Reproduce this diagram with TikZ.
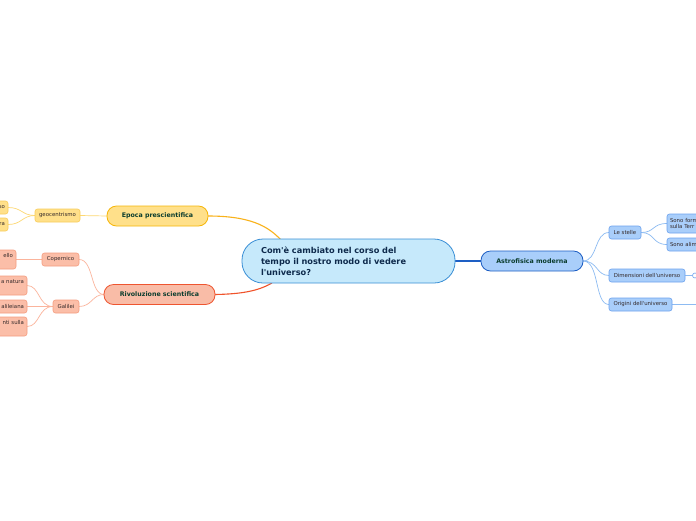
\documentclass[tikz,border=0pt]{standalone}
\usepackage{fontspec}
\setmainfont{DejaVu Sans}
\usetikzlibrary{backgrounds}
\begin{document}
\begin{tikzpicture}[x=1pt,y=-1pt,
  every node/.style={inner sep=0pt, outer sep=0pt},
  central/.style={draw=cBorder, fill=cFill, line width=0.8pt, rounded corners=21pt,
     minimum width=213pt, minimum height=44pt, text width=175pt, align=left,
     font=\fontsize{8.2}{10.8}\selectfont\bfseries, text=cText},
  topicY/.style={draw=yBorder, fill=yFill, line width=0.8pt, rounded corners=9.5pt,
     minimum height=20pt, font=\fontsize{6.3}{7.5}\selectfont\bfseries, text=tText},
  topicR/.style={topicY, draw=rBorder, fill=rFill},
  topicB/.style={topicY, draw=bBorder, fill=bFill},
  subY/.style={draw=ySub, fill=yFill2, line width=0.6pt, rounded corners=2.5pt,
     minimum height=13pt, font=\fontsize{5.4}{6.6}\selectfont, text=sText},
  subR/.style={subY, draw=rSub, fill=rFill2},
  subB/.style={subY, draw=bSub, fill=bFill2},
  leafL/.style={text width=60pt, align=right, anchor=east, inner xsep=3pt},
  leafR/.style={text width=60pt, align=left, anchor=west, inner xsep=3pt},
  lnY/.style={draw=yLine, line width=0.7pt},
  lnR/.style={draw=rLine, line width=0.7pt},
  lnB/.style={draw=bLine, line width=0.7pt},
]
\definecolor{cBorder}{HTML}{3A8FD6}
\definecolor{cFill}{HTML}{C6E9FB}
\definecolor{cText}{HTML}{0E2A4C}
\definecolor{tText}{HTML}{0B3D2E}
\definecolor{sText}{HTML}{352A2A}
\definecolor{yBorder}{HTML}{F6B60A}
\definecolor{yFill}{HTML}{FFE08A}
\definecolor{yFill2}{HTML}{FFE08A}
\definecolor{ySub}{HTML}{F8CD5A}
\definecolor{yLine}{HTML}{FDD873}
\definecolor{rBorder}{HTML}{EE5530}
\definecolor{rFill}{HTML}{F9BCA7}
\definecolor{rFill2}{HTML}{FBBEA8}
\definecolor{rSub}{HTML}{F59E80}
\definecolor{rLine}{HTML}{FBB49C}
\definecolor{bBorder}{HTML}{1E5FC4}
\definecolor{bFill}{HTML}{A9CEFA}
\definecolor{bFill2}{HTML}{A9CEFA}
\definecolor{bSub}{HTML}{6CA2EE}
\definecolor{bLine}{HTML}{8DBBF2}
\definecolor{orangeLine}{HTML}{F9B21A}
\definecolor{redLine}{HTML}{F0532B}
\definecolor{blueLine}{HTML}{1E5FC4}

\useasboundingbox (0,0) rectangle (696,520);

% nodes
\node[central] (root) at (348.5,261) {Com\textquotesingle è cambiato nel corso del\\tempo il nostro modo di vedere\\l\textquotesingle universo?};

\node[topicY, minimum width=101pt] (epoca) at (157.5,216) {Epoca prescientifica};
\node[topicR, minimum width=111pt] (rivo) at (159.5,294.5) {Rivoluzione scientifica};
\node[topicB, minimum width=102pt] (astro) at (532,261) {Astrofisica moderna};

\node[subY, minimum width=45pt] (geo) at (57.5,215.5) {geocentrismo};
\node[subY, leafL, minimum height=13pt] (so) at (8,207.5) {so};
\node[subY, leafL, minimum height=13pt] (ra) at (8,224.5) {ra};

\node[subR, minimum width=37pt] (cop) at (60.5,259.5) {Copernico};
\node[subR, minimum width=26pt] (gal) at (66,306.5) {Galilei};
\node[subR, leafL, minimum height=19pt] (ello) at (16,259.5) {ello\\\strut};
\node[subR, leafL, minimum height=19pt] (natura) at (27,285.5) {a natura\\\strut};
\node[subR, leafL, minimum height=13pt] (galil) at (27,306.5) {alileiana};
\node[subR, leafL, minimum height=19pt] (sulla) at (27,326.5) {nti sulla\\\strut};

\node[subB, minimum width=32pt] (stelle) at (625,232.5) {Le stelle};
\node[subB, minimum width=76pt] (dim) at (647,275.5) {Dimensioni dell\textquotesingle universo};
\node[subB, minimum width=63pt] (orig) at (640.5,304.5) {Origini dell\textquotesingle universo};
\node[subB, leafR, minimum height=19pt] (form) at (667,223.5) {Sono form\\sulla Terr};
\node[subB, leafR, minimum height=13pt] (alim) at (667,244.5) {Sono alim};

\coordinate (dimEnd) at (692,275.5);
\coordinate (origEnd) at (700,304.5);

% connectors (behind the nodes)
\begin{scope}[on background layer]
\fill[white] (0,0) rectangle (696,520);
\draw[draw=orangeLine, line width=1.1pt] (epoca.east) .. controls (250,216) and (268,226) .. (281,240);
\draw[draw=redLine, line width=1.1pt] (rivo.east) .. controls (242,294) and (258,291) .. (272,283);
\draw[draw=blueLine, line width=1.1pt] (root.east) -- (astro.west);

\draw[lnY] (geo.east) -- (epoca.west);
\draw[lnY] (geo.west) .. controls (22,215.5) and (22,207.5) .. (so.east);
\draw[lnY] (geo.west) .. controls (22,215.5) and (22,224.5) .. (ra.east);

\draw[lnR] (rivo.west) .. controls (90,294.5) and (94,259.5) .. (cop.east);
\draw[lnR] (rivo.west) .. controls (92,294.5) and (92,306.5) .. (gal.east);
\draw[lnR] (cop.west) -- (16,259.5);
\draw[lnR] (gal.west) .. controls (38,306.5) and (40,285.5) .. (27,285.5);
\draw[lnR] (gal.west) -- (galil.east);
\draw[lnR] (gal.west) .. controls (38,306.5) and (40,326.5) .. (27,326.5);

\draw[lnB] (astro.east) .. controls (598,261) and (594,232.5) .. (stelle.west);
\draw[lnB] (astro.east) .. controls (598,261) and (596,275.5) .. (dim.west);
\draw[lnB] (astro.east) .. controls (600,261) and (594,304.5) .. (orig.west);
\draw[lnB] (stelle.east) .. controls (655,232.5) and (652,223.5) .. (667,223.5);
\draw[lnB] (stelle.east) .. controls (655,232.5) and (652,244.5) .. (alim.west);
\draw[lnB, line width=1.4pt] (dim.east) -- (dimEnd);
\draw[lnB, line width=1.2pt] (orig.east) -- (origEnd);
\end{scope}
\draw[bSub, fill=white, line width=0.6pt] (695,275.5) circle (2.5pt);
\end{tikzpicture}
\end{document}
